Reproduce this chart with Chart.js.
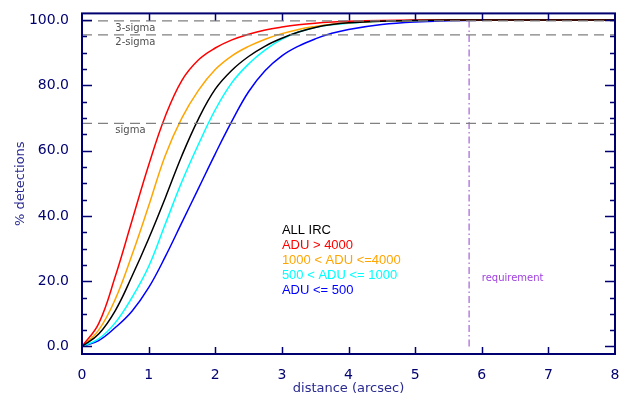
<!DOCTYPE html>
<html>
<head>
<meta charset="utf-8">
<script src="https://cdn.jsdelivr.net/npm/chart.js@4.4.0/dist/chart.umd.min.js"></script>
<style>
  body { margin: 0; background: #fff; }
  #wrap { width: 627px; height: 402px; }
</style>
</head>
<body>
<div id="wrap"><canvas id="detChart" width="627" height="402"></canvas></div>
<script>
// distance (arcsec) sample points
const distance = [0, 0.25, 0.5, 0.75, 1, 1.25, 1.5, 1.75, 2, 2.25, 2.5, 2.75, 3, 3.25, 3.5, 3.75, 4, 4.5, 5, 5.5, 6, 7, 8];

// % detections per class
const allIrc   = [0, 3.8, 11, 21.5, 33, 45.5, 58.5, 69.8, 78.8, 84.6, 88.8, 92, 94.4, 96.3, 97.7, 98.6, 99.1, 99.6, 99.85, 99.95, 100, 100, 100];
const adu4000  = [0, 7, 21.5, 38.5, 55.5, 70.5, 81.5, 87.8, 91.4, 93.9, 95.6, 96.9, 97.8, 98.5, 99.0, 99.35, 99.6, 99.85, 99.95, 100, 100, 100, 100];
const adu1000  = [0, 5, 14.5, 28, 43, 58.5, 70, 78.5, 84.8, 89, 91.9, 94.1, 95.8, 97.1, 98.0, 98.7, 99.15, 99.6, 99.85, 99.95, 100, 100, 100];
const adu500   = [0, 2.3, 7.3, 15, 24.5, 37.5, 50.5, 62, 72.5, 80.8, 86.5, 90.8, 94.1, 96.3, 97.7, 98.5, 99.0, 99.6, 99.85, 99.95, 100, 100, 100];
const aduLow   = [0, 1.8, 5.8, 10.8, 18, 27.5, 38, 48.5, 59, 69, 78, 84.5, 89, 92, 94.2, 95.9, 97.1, 98.6, 99.4, 99.75, 99.9, 100, 100];

const seriesNames  = ["ALL IRC", "ADU > 4000", "1000 < ADU <=4000", "500 < ADU <= 1000", "ADU <= 500"];
const seriesColors = ["#000000", "#ff0000", "#ffa500", "#00ffff", "#0000ff"];
const seriesData   = [allIrc, adu4000, adu1000, adu500, aduLow];

// reference levels
const sigmaLevels = [68.3, 95.4, 99.7];
const sigmaNames  = ["sigma", "2-sigma", "3-sigma"];
const requirement = 5.81;

const yTicks = [0, 20, 40, 60, 80, 100];
const axisColor = "#000070";

const toPoints = arr => arr.map((v, i) => ({ x: distance[i], y: v }));

const datasets = [];
sigmaLevels.forEach(v => {
  datasets.push({
    data: [{ x: 0, y: v }, { x: 8, y: v }],
    borderColor: "#808080",
    borderWidth: 1.3,
    borderDash: [10, 6],
    pointRadius: 0
  });
});
datasets.push({
  data: [{ x: requirement, y: 0 }, { x: requirement, y: 100 }],
  borderColor: "#9040d0",
  borderWidth: 1,
  borderDash: [7, 3, 1.5, 3],
  pointRadius: 0
});
seriesData.forEach((arr, i) => {
  datasets.push({
    data: toPoints(arr),
    borderColor: seriesColors[i],
    borderWidth: 1.5,
    pointRadius: 0,
    tension: 0.4
  });
});

const framePlugin = {
  id: "frame",
  afterDraw(chart) {
    const { ctx, chartArea: a, scales: { x, y } } = chart;
    ctx.save();
    ctx.strokeStyle = axisColor;
    ctx.lineWidth = 2;
    ctx.strokeRect(a.left, a.top, a.right - a.left, a.bottom - a.top);
    ctx.lineWidth = 1.5;
    ctx.beginPath();
    for (let v = 1; v < 8; v++) {
      const px = Math.round(x.getPixelForValue(v)) + 0.5;
      ctx.moveTo(px, a.bottom); ctx.lineTo(px, a.bottom - 7);
      ctx.moveTo(px, a.top); ctx.lineTo(px, a.top + 7);
    }
    for (let v = 0; v <= 100; v += 5) {
      const py = Math.round(y.getPixelForValue(v)) + 0.5;
      const len = v % 20 === 0 ? 10 : 5;
      ctx.moveTo(a.left, py); ctx.lineTo(a.left + len, py);
      ctx.moveTo(a.right, py); ctx.lineTo(a.right - len, py);
    }
    ctx.stroke();

    // sigma labels
    ctx.font = "10px 'DejaVu Sans'";
    ctx.fillStyle = "#505050";
    ctx.textBaseline = "middle";
    ctx.textAlign = "left";
    sigmaLevels.forEach((v, i) => {
      ctx.fillText(sigmaNames[i], x.getPixelForValue(0.5), y.getPixelForValue(v) + 7);
    });

    // requirement label
    ctx.fillStyle = "#a040e0";
    ctx.fillText("requirement", x.getPixelForValue(6.0), y.getPixelForValue(20.8));

    // legend text
    ctx.font = "13px 'Liberation Sans'";
    seriesNames.forEach((n, i) => {
      ctx.fillStyle = seriesColors[i];
      ctx.fillText(n, x.getPixelForValue(3.0), y.getPixelForValue(35.5 - i * 4.56));
    });
    ctx.restore();
  }
};

new Chart(document.getElementById("detChart").getContext("2d"), {
  type: "line",
  data: { datasets: datasets },
  options: {
    responsive: false,
    animation: false,
    devicePixelRatio: 1,
    layout: { padding: { top: 7, right: 12, left: 0, bottom: 0 } },
    plugins: {
      legend: { display: false },
      tooltip: { enabled: false }
    },
    scales: {
      x: {
        type: "linear",
        min: 0,
        max: 8,
        grid: { display: false },
        border: { display: false },
        ticks: {
          stepSize: 1,
          color: axisColor,
          font: { family: "DejaVu Sans", size: 14 },
          padding: 5,
          maxRotation: 0
        },
        title: {
          display: true,
          text: "distance (arcsec)",
          color: "#2a2a90",
          font: { family: "DejaVu Sans", size: 13 },
          padding: { top: 0, bottom: 6 }
        },
        afterFit(scale) { scale.height = 48; }
      },
      y: {
        type: "linear",
        min: -2.3,
        max: 102,
        grid: { display: false },
        border: { display: false },
        afterBuildTicks(scale) { scale.ticks = yTicks.map(v => ({ value: v })); },
        ticks: {
          color: axisColor,
          font: { family: "DejaVu Sans", size: 14 },
          padding: 5,
          callback: v => Number(v).toFixed(1)
        },
        title: {
          display: true,
          text: "% detections",
          color: "#2a2a90",
          font: { family: "DejaVu Sans", size: 13 },
          padding: { top: 13, bottom: 0 }
        },
        afterFit(scale) { scale.width = 82; }
      }
    }
  },
  plugins: [framePlugin]
});
</script>
</body>
</html>
